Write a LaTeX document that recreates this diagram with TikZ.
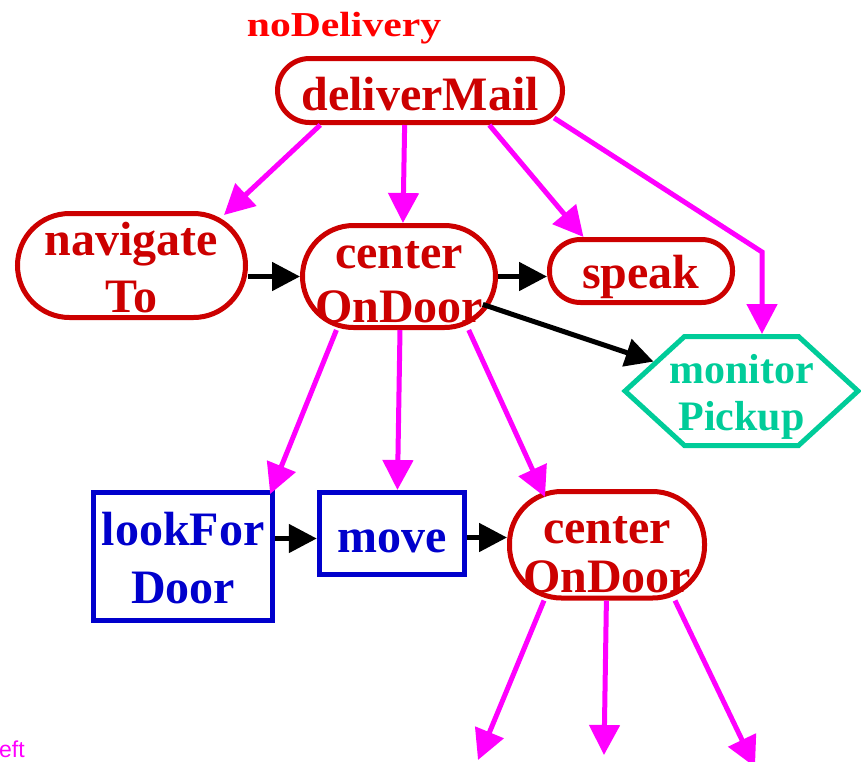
\documentclass[tikz,border=0pt]{standalone}
\usepackage{graphicx}
\usepackage{fontspec}
\setmainfont{Liberation Serif}
\newfontfamily\cutsans{Liberation Sans}
\usetikzlibrary{arrows.meta,calc,shapes.symbols}

\definecolor{taskred}{HTML}{CC0000}
\definecolor{goalred}{HTML}{FF0000}
\definecolor{linkmag}{HTML}{FF00FF}
\definecolor{actblue}{HTML}{0000CC}
\definecolor{monteal}{HTML}{00CC99}

\newcommand{\twolines}[2]{\begin{tabular}[b]{@{}c@{}}#1\\#2\end{tabular}}

\begin{document}
\begin{tikzpicture}[x=1pt,y=-1pt,
  task/.style={draw=taskred,text=taskred,line width=5pt,rounded corners=#1,inner sep=0pt,anchor=base},
  task/.default=31pt,
  action/.style={draw=actblue,text=actblue,line width=5pt,inner sep=0pt,anchor=base},
  big/.style={font=\bfseries\fontsize{48}{#1}\selectfont},
  big/.default=54,
  sub/.style={draw=linkmag,line width=5pt,-{Triangle[length=30pt,width=30pt]}},
  seq/.style={draw=black,line width=5pt,-{Triangle[length=28pt,width=28pt]}}]

\useasboundingbox (0,0) rectangle (861,761);
\clip (0,0) rectangle (861,761);

\node[text=goalred,font=\bfseries\fontsize{35}{38}\selectfont,anchor=base,inner sep=0pt] (goal) at (344,36) {\scalebox{1.19}[1]{noDelivery}};

\node[task=32pt,big,minimum width=285pt,text height=51.5pt,text depth=12.5pt] (mail) at (420,110) {deliverMail};

\node[task=52pt,big=57,minimum width=228pt,text height=98.5pt,text depth=5.5pt] (nav) at (131.5,312) {\twolines{navigate}{To}};
\node[task=51pt,big=54,minimum width=193pt,text height=96.5pt,text depth=5.5pt] (door) at (399,322) {\twolines{center}{OnDoor}};
\node[task,big,minimum width=183pt,text height=48.5pt,text depth=14.5pt] (speak) at (641,288) {speak};
\node[draw=monteal,text=monteal,line width=5pt,inner sep=0pt,shape=signal,signal to=west and east,signal pointer angle=85,
      minimum width=233pt,font=\bfseries\fontsize{42}{47}\selectfont,text height=93.5pt,text depth=15.5pt] (mon) at (741.5,391)
      {\makebox[110pt]{\twolines{monitor}{Pickup}}};

\node[action,big=58,minimum width=178.5pt,text height=110.5pt,text depth=17.5pt] (look) at (183,603) {\twolines{lookFor}{Door}};
\node[action,big,minimum width=145.5pt,text height=59.5pt,text depth=22.5pt] (move) at (392,552) {move};
\node[task=52pt,big=49,minimum width=195pt,text height=100.5pt,text depth=6pt] (door2) at (607,592) {\twolines{center}{OnDoor}};

\node[text=linkmag,font=\cutsans\fontsize{23}{26}\selectfont,anchor=base west,inner sep=0pt] (cut) at (-1,757) {eft};

\coordinate (bend) at (762,252);
\coordinate (outA) at (478,760);
\coordinate (outB) at (604,755);
\coordinate (outC) at (755,767);

% subtasks
\draw[sub] ($(mail.south west)!.156!(mail.south east)$) -- ($(nav.north west)!.897!(nav.north east)+(0,4)$);
\draw[sub] ($(mail.south west)!.447!(mail.south east)$) -- ($(door.north west)!.52!(door.north east)$);
\draw[sub] ($(mail.south west)!.739!(mail.south east)$) -- ($(speak.north west)!.194!(speak.north east)$);
\draw[sub,shorten <=-13pt] (mail.south east) -- (bend) -- (bend |- mon.north);

\draw[sub] ($(door.south west)!.184!(door.south east)$) -- ($(look.north west)!.975!(look.north east)+(0,4)$);
\draw[sub] ($(door.south west)!.505!(door.south east)$) -- ($(move.north west)!.536!(move.north east)$);
\draw[sub] ($(door.south west)!.852!(door.south east)$) -- ($(door2.north west)!.19!(door2.north east)+(0,8)$);

\draw[sub] ($(door2.south west)!.185!(door2.south east)$) -- (outA);
\draw[sub] ($(door2.south west)!.497!(door2.south east)$) -- (outB);
\draw[sub] ($(door2.south west)!.84!(door2.south east)$) -- (outC);

% sequence
\draw[seq] (nav.east |- door.west) -- (door.west);
\draw[seq] (door.east) -- (door.east -| speak.west);
\draw[seq,shorten <=-16pt] (door) -- (mon);
\draw[seq] ($(look.east |- move.west)+(0,5)$) -- ($(move.west)+(0,5)$);
\draw[seq] ($(move.east)+(0,4)$) -- ($(move.east -| door2.west)+(0,4)$);

\end{tikzpicture}
\end{document}
